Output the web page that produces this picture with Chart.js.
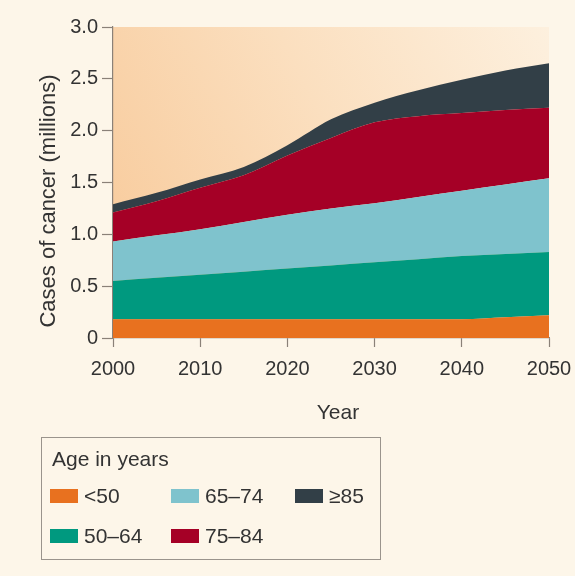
<!DOCTYPE html>
<html>
<head>
<meta charset="utf-8">
<script src="https://cdn.jsdelivr.net/npm/chart.js@4"></script>
<style>
  html, body { margin: 0; padding: 0; background: #fdf6e9; }
  #wrap { position: relative; width: 575px; height: 576px; }
  #legend {
    position: absolute; left: 41px; top: 437px; width: 338px; height: 121px;
    border: 1px solid #9a948c;
    font-family: 'Liberation Sans', Arial, sans-serif; color: #333;
  }
  #legend .title { position: absolute; left: 10px; top: 9px; font-size: 21px; line-height: 24px; }
  #legend .items {
    position: absolute; left: 8px; top: 38px;
    display: grid; grid-template-rows: 40px 40px; grid-template-columns: 121px 124px 80px;
    grid-auto-flow: column;
  }
  #legend .item { display: flex; align-items: center; font-size: 21px; }
  #legend .swatch { width: 28px; height: 14px; margin-right: 6px; }
</style>
</head>
<body>
<div id="wrap">
  <canvas id="chart" width="575" height="576"></canvas>
  <div id="legend"><div class="title">Age in years</div><div class="items"></div></div>
</div>
<script>
// values, in millions (each series is its own band, stacked)
const years = [2000, 2005, 2010, 2015, 2020, 2025, 2030, 2035, 2040, 2045, 2050];
const under50 = [0.18, 0.18, 0.18, 0.18, 0.18, 0.18, 0.18, 0.18, 0.18, 0.20, 0.22];
const age50to64 = [0.37, 0.40, 0.43, 0.46, 0.49, 0.52, 0.55, 0.58, 0.61, 0.61, 0.61];
const age65to74 = [0.38, 0.41, 0.44, 0.48, 0.52, 0.55, 0.57, 0.60, 0.63, 0.67, 0.71];
const age75to84 = [0.28, 0.33, 0.40, 0.45, 0.57, 0.68, 0.78, 0.78, 0.75, 0.72, 0.68];
const age85plus = [0.08, 0.08, 0.08, 0.08, 0.10, 0.18, 0.19, 0.25, 0.32, 0.38, 0.43];

const seriesLabels = ['<50', '50–64', '65–74', '75–84', '≥85'];
const seriesColors = ['#e8711f', '#00997f', '#7fc3cd', '#a50026', '#323f47'];
const seriesValues = [under50, age50to64, age65to74, age75to84, age85plus];

const axisColor = '#8a8178';
const textColor = '#333333';
const fontFamily = "'Liberation Sans', Arial, sans-serif";

// peach wash behind the plot
const plotBackground = {
  id: 'plotBackground',
  beforeDraw(chart) {
    const { ctx, chartArea: a } = chart;
    const g = ctx.createLinearGradient(a.left, a.bottom - (a.bottom - a.top) * 0.3, a.right, a.top);
    g.addColorStop(0, '#f8cc9e');
    g.addColorStop(0.5, '#fbdfbf');
    g.addColorStop(1, '#fdf0de');
    ctx.save();
    ctx.fillStyle = g;
    ctx.fillRect(a.left, a.top, a.right - a.left, a.bottom - a.top);
    ctx.restore();
  }
};

// axis titles placed where the original has them
const axisTitles = {
  id: 'axisTitles',
  afterDraw(chart) {
    const { ctx } = chart;
    ctx.save();
    ctx.fillStyle = textColor;
    ctx.font = '21px ' + fontFamily;
    ctx.textAlign = 'center';
    ctx.textBaseline = 'middle';
    ctx.fillText('Year', 338, 413);
    ctx.translate(49, 201);
    ctx.rotate(-Math.PI / 2);
    ctx.font = '22px ' + fontFamily;
    ctx.fillText('Cases of cancer (millions)', 0, 0);
    ctx.restore();
  }
};

const datasets = seriesValues.map((vals, i) => ({
  label: seriesLabels[i],
  data: years.map((x, j) => ({ x: x, y: vals[j] })),
  backgroundColor: seriesColors[i],
  borderColor: seriesColors[i],
  borderWidth: 0,
  pointRadius: 0,
  fill: i === 0 ? 'origin' : '-1',
  cubicInterpolationMode: 'monotone'
}));

const chart = new Chart(document.getElementById('chart').getContext('2d'), {
  type: 'line',
  data: { datasets: datasets },
  options: {
    responsive: false,
    animation: false,
    layout: { padding: { left: 0, top: 27, right: 26, bottom: 0 } },
    plugins: {
      legend: { display: false },
      tooltip: { enabled: false }
    },
    scales: {
      x: {
        type: 'linear',
        min: 2000,
        max: 2050,
        afterFit: (scale) => {
          scale.height = 238;
          scale.paddingLeft = 0;
          scale.paddingRight = 0;
        },
        border: { display: true, color: axisColor, width: 1.2 },
        grid: { drawOnChartArea: false, drawTicks: true, tickLength: 9, color: axisColor, tickColor: axisColor, tickWidth: 1.2 },
        ticks: {
          stepSize: 10,
          padding: 10,
          maxRotation: 0,
          color: textColor,
          font: { family: fontFamily, size: 20 },
          callback: (v) => String(v)
        }
      },
      y: {
        stacked: true,
        min: 0,
        max: 3,
        afterFit: (scale) => {
          scale.width = 113;
          scale.paddingTop = 0;
          scale.paddingBottom = 0;
        },
        border: { display: true, color: axisColor, width: 1.2 },
        grid: { drawOnChartArea: false, drawTicks: true, tickLength: 11, color: axisColor, tickColor: axisColor, tickWidth: 1.2 },
        ticks: {
          stepSize: 0.5,
          padding: 4,
          color: textColor,
          font: { family: fontFamily, size: 20 },
          callback: (v) => (v === 0 ? '0' : v.toFixed(1))
        }
      }
    }
  },
  plugins: [plotBackground, axisTitles]
});

// legend box built from the datasets
const items = document.querySelector('#legend .items');
chart.data.datasets.forEach((ds) => {
  const item = document.createElement('div');
  item.className = 'item';
  const sw = document.createElement('span');
  sw.className = 'swatch';
  sw.style.background = ds.backgroundColor;
  item.appendChild(sw);
  item.appendChild(document.createTextNode(ds.label));
  items.appendChild(item);
});
</script>
</body>
</html>
